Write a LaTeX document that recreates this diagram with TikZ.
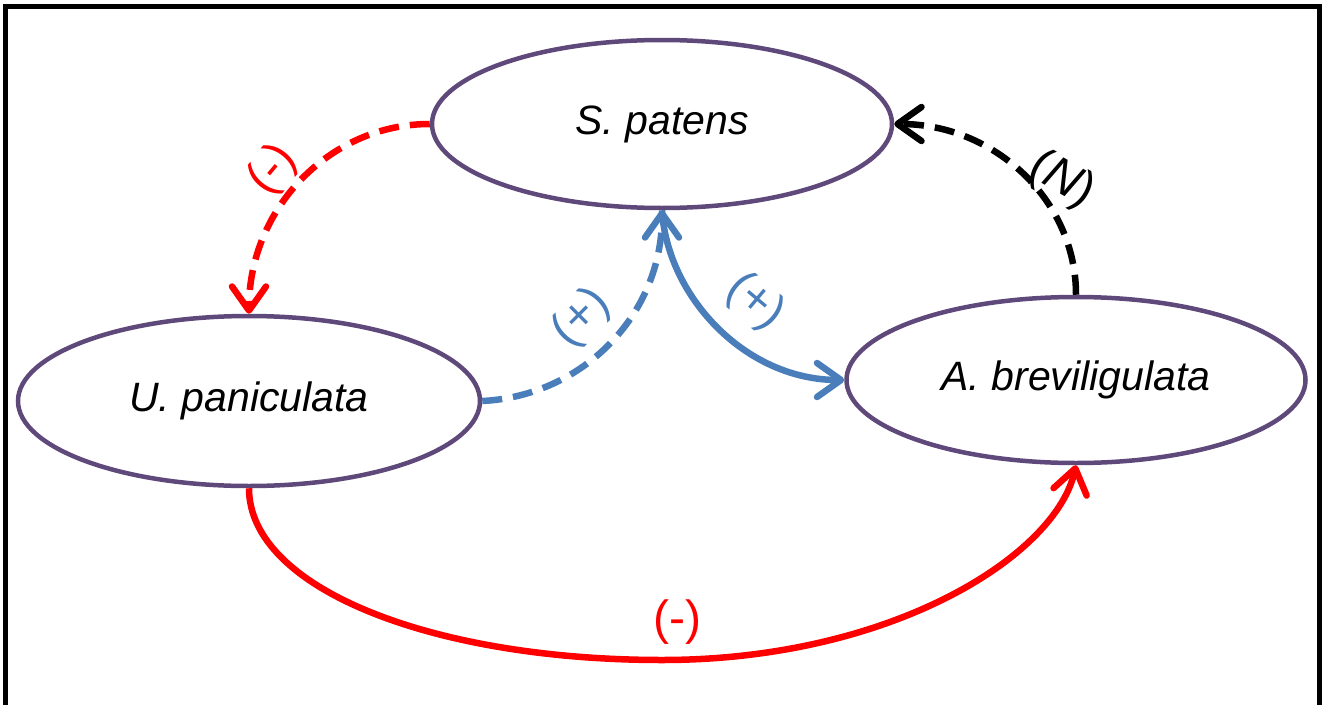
\documentclass[tikz,border=0pt]{standalone}
\usepackage{fontspec}
\setmainfont{Liberation Sans}
\usetikzlibrary{arrows.meta,shapes.geometric}
\definecolor{ellpurple}{HTML}{5F497A}
\definecolor{arrblue}{HTML}{4A7EBB}
\definecolor{arrred}{HTML}{FF0000}
\tikzset{
  species/.style={draw=ellpurple, line width=4.5pt, ellipse, inner sep=0pt, font=\fontsize{41}{48}\selectfont\itshape},
  barb/.style={-{Straight Barb[length=24pt,width=34pt,line cap=round,line join=round]}},
  conn/.style={line width=6.5pt, barb},
  dashline/.style={dash pattern=on 20pt off 11pt},
  lbl/.style={font=\fontsize{48}{54}\selectfont, inner sep=0pt}
}
\begin{document}
\begin{tikzpicture}[x=1pt,y=-1pt]
\useasboundingbox (0,0) rectangle (1322,704);
\begin{scope}
\clip (0,0) rectangle (1322,704);
\draw[line width=5pt] (5.5,720) -- (5.5,6.5) -- (1319.5,6.5) -- (1319.5,720);
\end{scope}
\node[species, minimum width=460pt, minimum height=168pt] (sp) at (662,124) {S. patens};
\node[species, minimum width=462pt, minimum height=170pt] (up) at (249,401) {U. paniculata};
\node[species, minimum width=459pt, minimum height=166pt] (ab) at (1076,380) {A. breviligulata};
% red dashed S.patens -> U.paniculata
\draw[conn, arrred, dashline] (sp.west) .. controls +(-100,0) and +(0,-105) .. (up.north);
% blue dashed U.paniculata -> S.patens
\draw[conn, arrblue, dashline] (up.east) .. controls +(100,-5) and +(0,105) .. (sp.south);
% blue solid S.patens -> A.breviligulata
\draw[conn, arrblue] (sp.south) .. controls +(5,85) and +(-100,0) .. (ab.west);
% black dashed A.breviligulata -> S.patens
\draw[conn, black, dashline] (ab.north) .. controls +(0,-95) and +(100,0) .. (sp.east);
% red solid U.paniculata -> A.breviligulata
\coordinate (bot) at (662,660);
\draw[line width=6.5pt, arrred] (up.south) .. controls +(0,100) and +(-230,0) .. (bot);
\draw[conn, arrred] (bot) .. controls +(230,0) and +(-20,90) .. (ab.south);
% labels
\node[lbl, text=arrred, rotate=50] (l1) at (273,170) {(-)};
\node[lbl, text=arrblue, rotate=45] (l2) at (582,318) {(+)};
\node[lbl, text=arrblue, rotate=-40] (l3) at (755,302) {(+)};
\node[lbl, text=black, rotate=-30] (l4) at (1062,180) {(\textit{N})};
\node[lbl, text=arrred] (l5) at (677,622) {(-)};
\end{tikzpicture}
\end{document}
